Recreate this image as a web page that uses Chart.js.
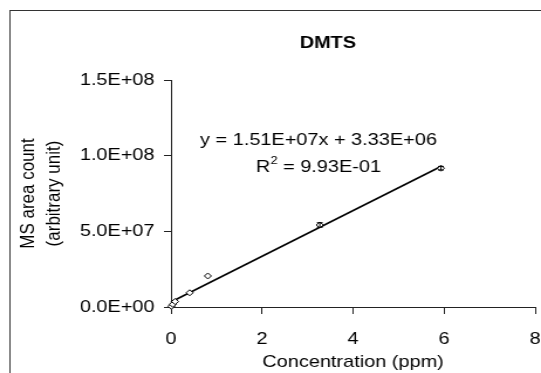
<!DOCTYPE html>
<html>
<head>
<meta charset="utf-8">
<script src="https://cdn.jsdelivr.net/npm/chart.js@4"></script>
<style>
  html, body { margin: 0; padding: 0; background: #fff; overflow: hidden; }
  /* the source picture is stretched sideways, so the chart is drawn narrow and widened */
  #wrap { position: absolute; left: 0; top: 0; width: 462px; height: 373px;
          transform: scaleX(1.171); transform-origin: 0 0; }
</style>
</head>
<body>
<div id="wrap"><canvas id="chart"></canvas></div>
<script>
// calibration points, DMTS
const conc = [0.01, 0.04, 0.09, 0.41, 0.81, 3.27, 5.93];
const area = [0.5e6, 1.8e6, 3.6e6, 9.4e6, 2.05e7, 5.42e7, 9.17e7];
const areaErr = [0, 0, 0, 0, 0, 1.5e6, 1.2e6];

// linear trendline ends (y = 1.51E+07x + 3.33E+06)
const fitX = [0, 5.95];
const fitY = [3.33e6, 9.32e7];

const xTicks = [0, 2, 4, 6, 8];
const yTicks = [0, 5e7, 1e8, 1.5e8];

const chartTitle = "DMTS";
const eqText = "y = 1.51E+07x + 3.33E+06";
const r2Text = " = 9.93E-01";
const xTitle = "Concentration (ppm)";
const yTitle = ["MS area count", "(arbitrary unit)"];

const FONT = "'Liberation Sans', Arial, Helvetica, sans-serif";

// 1.5e8 -> 1.5E+08
const sci = (v) => {
  const [m, e] = Number(v).toExponential(1).split("e");
  const n = Math.abs(parseInt(e, 10));
  return m + "E" + (e[0] === "-" ? "-" : "+") + (n < 10 ? "0" + n : n);
};

const extras = {
  id: "extras",
  beforeDraw(chart) {
    const ctx = chart.ctx;
    ctx.save();
    ctx.strokeStyle = "#333";
    ctx.lineWidth = 1;
    ctx.strokeRect(8.5, 10.5, 1000, 1000);
    ctx.restore();
  },
  afterDatasetsDraw(chart) {
    const ctx = chart.ctx;
    const xs = chart.scales.x, ys = chart.scales.y;
    ctx.save();
    ctx.strokeStyle = "#000";
    ctx.lineWidth = 1;
    areaErr.forEach((e, i) => {
      if (!e) return;
      const px = xs.getPixelForValue(conc[i]);
      const top = ys.getPixelForValue(area[i] + e);
      const bot = ys.getPixelForValue(area[i] - e);
      ctx.beginPath();
      ctx.moveTo(px, top); ctx.lineTo(px, bot);
      ctx.moveTo(px - 2.5, top); ctx.lineTo(px + 2.5, top);
      ctx.moveTo(px - 2.5, bot); ctx.lineTo(px + 2.5, bot);
      ctx.stroke();
    });

    ctx.fillStyle = "#000";
    ctx.textBaseline = "middle";
    ctx.textAlign = "center";
    ctx.font = "bold 17px " + FONT;
    ctx.fillText(chartTitle, 280, 43);

    ctx.font = "17px " + FONT;
    ctx.fillText(eqText, 272, 140);

    // R² line with a raised 2
    ctx.textAlign = "left";
    const wR = ctx.measureText("R").width;
    const wRest = ctx.measureText(r2Text).width;
    ctx.font = "11px " + FONT;
    const w2 = ctx.measureText("2").width;
    let x0 = 272 - (wR + w2 + wRest) / 2;
    ctx.font = "17px " + FONT;
    ctx.fillText("R", x0, 167);
    ctx.font = "11px " + FONT;
    ctx.fillText("2", x0 + wR, 161);
    ctx.font = "17px " + FONT;
    ctx.fillText(r2Text, x0 + wR + w2, 167);
    ctx.restore();
  }
};

new Chart(document.getElementById("chart"), {
  type: "scatter",
  data: {
    datasets: [
      {
        label: "fit",
        type: "line",
        data: fitX.map((x, i) => ({ x: x, y: fitY[i] })),
        borderColor: "#000",
        borderWidth: 1.6,
        pointRadius: 0,
        fill: false,
        clip: false,
        order: 2
      },
      {
        label: "DMTS",
        data: conc.map((x, i) => ({ x: x, y: area[i] })),
        pointStyle: "rectRot",
        pointRadius: 3,
        pointBorderWidth: 1,
        borderColor: "#000",
        backgroundColor: "#fff",
        clip: false,
        order: 1
      }
    ]
  },
  options: {
    responsive: true,
    maintainAspectRatio: false,
    animation: false,
    layout: { padding: { left: 0, right: 5, top: 80, bottom: 0 } },
    plugins: {
      legend: { display: false },
      tooltip: { enabled: false },
      title: { display: false }
    },
    scales: {
      x: {
        type: "linear",
        min: 0,
        max: 8,
        afterBuildTicks: (s) => { s.ticks = xTicks.map((v) => ({ value: v })); },
        afterFit: (s) => { s.height = 66; s.paddingLeft = 0; s.paddingRight = 0; },
        border: { display: true, color: "#222", width: 1 },
        grid: { drawOnChartArea: false, drawTicks: true, tickLength: 7, color: "#222" },
        ticks: { color: "#000", padding: 15, font: { family: FONT, size: 17 } },
        title: {
          display: true,
          text: xTitle,
          color: "#000",
          font: { family: FONT, size: 17 },
          padding: { top: 0, bottom: 0 }
        }
      },
      y: {
        type: "linear",
        min: 0,
        max: 1.5e8,
        afterBuildTicks: (s) => { s.ticks = yTicks.map((v) => ({ value: v })); },
        afterFit: (s) => { s.width = 146; },
        border: { display: true, color: "#222", width: 1 },
        grid: { drawOnChartArea: false, drawTicks: true, tickLength: 6, color: "#222" },
        ticks: { color: "#000", padding: 8, font: { family: FONT, size: 17 }, callback: (v) => sci(v) },
        title: {
          display: true,
          text: yTitle,
          color: "#000",
          font: { family: FONT, size: 17, lineHeight: 1.25 },
          padding: { top: 14, bottom: 0 }
        }
      }
    }
  },
  plugins: [extras]
});
</script>
</body>
</html>
